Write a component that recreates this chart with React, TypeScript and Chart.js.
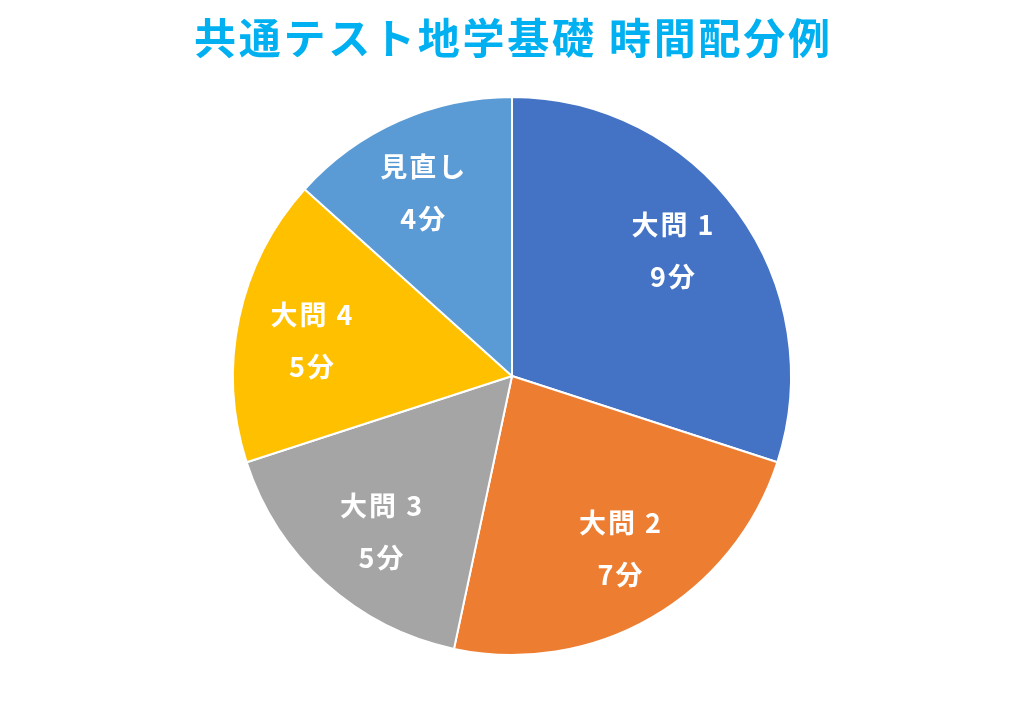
import React, { useEffect, useRef } from "react";
import { Chart, registerables } from "chart.js";

Chart.register(...registerables);

const categories = ["大問 1", "大問 2", "大問 3", "大問 4", "見直し"];
const minutes = [9, 7, 5, 5, 4];
const colors = ["#4472C4", "#ED7D31", "#A5A5A5", "#FFC000", "#5B9BD5"];
const titleText = "共通テスト地学基礎 時間配分例";

const FONT = "'Noto Sans CJK JP', 'Noto Sans', sans-serif";

function drawSpaced(ctx: any, text: string, cx: number, cy: number, spacing: number) {
  ctx.letterSpacing = "0px";
  const chars = Array.from(text);
  const base = ctx.measureText(text).width;
  const total = base + spacing * (chars.length - 1);
  ctx.letterSpacing = `${spacing}px`;
  ctx.textAlign = "left";
  ctx.fillText(text, cx - total / 2, cy);
  ctx.letterSpacing = "0px";
}

const labelPlugin = {
  id: "sliceLabels",
  afterDatasetsDraw(chart: any) {
    const ctx = chart.ctx;
    const meta = chart.getDatasetMeta(0);
    ctx.save();
    ctx.fillStyle = "#FFFFFF";
    ctx.font = `bold 27px ${FONT}`;
    ctx.textBaseline = "middle";
    meta.data.forEach((arc: any, i: number) => {
      const { x, y, startAngle, endAngle, outerRadius } = arc.getProps(
        ["x", "y", "startAngle", "endAngle", "outerRadius"],
        true
      );
      const mid = (startAngle + endAngle) / 2 - (2 * Math.PI) / 180;
      const d = outerRadius * 0.73;
      const cx = x + Math.cos(mid) * d;
      const cy = y + Math.sin(mid) * d;
      drawSpaced(ctx, categories[i], cx, cy - 26, 2);
      drawSpaced(ctx, `${minutes[i]}分`, cx, cy + 26, 2);
    });
    ctx.restore();
  },
};

const titlePlugin = {
  id: "customTitle",
  afterDraw(chart: any) {
    const ctx = chart.ctx;
    ctx.save();
    ctx.fillStyle = "#00B0F0";
    ctx.font = `bold 42px ${FONT}`;
    ctx.textBaseline = "middle";
    ctx.letterSpacing = "0px";
    const chars = Array.from(titleText);
    const w = ctx.measureText(titleText).width;
    const targetW = 636;
    const sp = Math.max(0, (targetW - w) / (chars.length - 1));
    drawSpaced(ctx, titleText, 512, 38, sp);
    ctx.restore();
  },
};

export default function App() {
  const ref = useRef<HTMLCanvasElement>(null);
  useEffect(() => {
    if (!ref.current) return;
    const chart = new Chart(ref.current, {
      type: "pie",
      data: {
        labels: categories,
        datasets: [
          {
            data: minutes,
            backgroundColor: colors,
            borderColor: "#FFFFFF",
            borderWidth: 2,
          },
        ],
      },
      options: {
        animation: false,
        responsive: false,
        layout: { padding: { top: 96, bottom: 61, left: 0, right: 0 } },
        plugins: {
          legend: { display: false },
          title: { display: false },
          tooltip: { enabled: false },
        },
      },
      plugins: [labelPlugin, titlePlugin],
    });
    return () => chart.destroy();
  }, []);
  return (
    <div style={{ position: "absolute", left: 0, top: 0, width: 1024, height: 717, background: "#FFFFFF" }}>
      <canvas ref={ref} width={1024} height={717} style={{ display: "block" }} />
    </div>
  );
}
